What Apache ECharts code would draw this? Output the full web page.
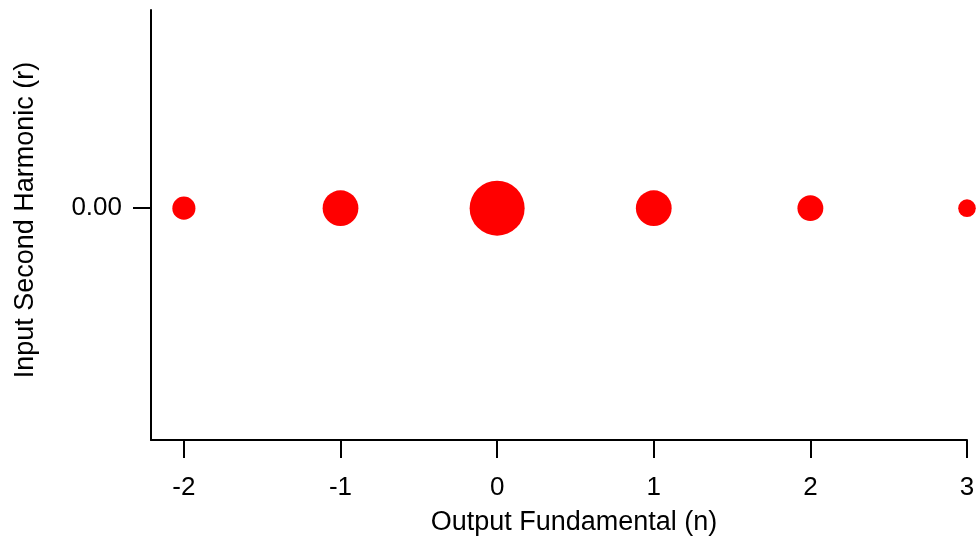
<!DOCTYPE html>
<html>
<head>
<meta charset="utf-8">
<style>
  html, body { margin: 0; padding: 0; background: #fff; }
  #chart { width: 976px; height: 538px; }
</style>
<script src="https://cdn.jsdelivr.net/npm/echarts@6/dist/echarts.min.js"></script>
</head>
<body>
<div id="chart"></div>
<script>
// Harmonic components: output fundamental order n, input second harmonic r
const orderN = [-2, -1, 0, 1, 2, 3];
const harmonicR = [0, 0, 0, 0, 0, 0];
// Relative magnitude of each component (drawn as marker diameter)
const magnitude = [0.42, 0.65, 1.0, 0.65, 0.47, 0.32];
const xTicks = [-2, -1, 0, 1, 2, 3];
const yTicks = [0];

const MAX_DIAMETER = 55;
const FONT = '"Liberation Sans", Arial, Helvetica, sans-serif';

const points = orderN.map((n, i) => [n, harmonicR[i], magnitude[i]]);

const chart = echarts.init(document.getElementById('chart'), null, { renderer: 'canvas' });
chart.setOption({
  animation: false,
  backgroundColor: '#ffffff',
  grid: { left: 151, right: 9, top: 10, bottom: 98, containLabel: false, outerBoundsMode: 'none' },
  xAxis: {
    type: 'value',
    min: -2.21,
    max: 3,
    name: 'Output Fundamental (n)',
    nameLocation: 'middle',
    nameGap: 69,
    nameTextStyle: { color: '#000', fontFamily: FONT, fontSize: 27, padding: [0, 0, 0, 30] },
    axisLine: { show: true, onZero: false, lineStyle: { color: '#000', width: 2 } },
    axisTick: { show: true, length: 18, lineStyle: { color: '#000', width: 2 }, customValues: xTicks },
    axisLabel: { color: '#000', fontFamily: FONT, fontSize: 26, margin: 35, customValues: xTicks },
    splitLine: { show: false }
  },
  yAxis: {
    type: 'value',
    min: -1.17,
    max: 1,
    name: 'Input Second Harmonic (r)',
    nameLocation: 'middle',
    nameGap: 112,
    nameRotate: 90,
    nameTextStyle: { color: '#000', fontFamily: FONT, fontSize: 27, padding: [0, 0, 0, 10] },
    axisLine: { show: true, onZero: false, lineStyle: { color: '#000', width: 2 } },
    axisTick: { show: true, length: 18, lineStyle: { color: '#000', width: 2 }, customValues: yTicks },
    axisLabel: {
      color: '#000', fontFamily: FONT, fontSize: 26, margin: 29,
      customValues: yTicks,
      formatter: v => v.toFixed(2)
    },
    splitLine: { show: false }
  },
  series: [{
    type: 'scatter',
    data: points,
    symbol: 'circle',
    symbolSize: d => d[2] * MAX_DIAMETER,
    itemStyle: { color: '#ff0000', opacity: 1 },
    clip: false
  }]
});
</script>
</body>
</html>
